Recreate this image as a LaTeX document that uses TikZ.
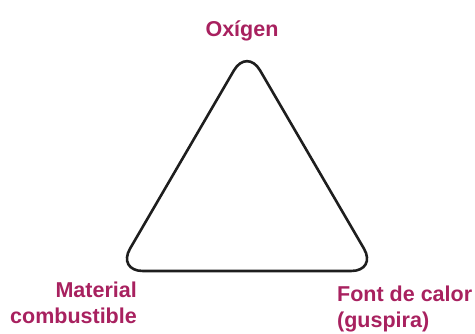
\documentclass[tikz,border=0pt]{standalone}
\usepackage{fontspec}
\setmainfont{Liberation Sans}
\definecolor{labelcol}{HTML}{A8215F}
\definecolor{linecol}{HTML}{1E1E1E}
\begin{document}
\begin{tikzpicture}[x=1pt,y=1pt,
  lbl/.style={text=labelcol,font=\fontsize{21.5}{26}\selectfont\bfseries,inner sep=0pt},
  tri/.style={draw=linecol,line width=2.6pt,rounded corners=26pt,line join=round}]
\useasboundingbox (0,0) rectangle (475,333);
\coordinate (apex) at (247,285);
\coordinate (bl) at (117,62);
\coordinate (br) at (377,62);
\draw[tri] (bl) -- (apex) -- (br) -- cycle;
\node[lbl,anchor=base] (oxi) at (242,297) {Oxígen};
\node[lbl,anchor=base east,align=right] (mat) at (137,10) {Material\\combustible};
\node[lbl,anchor=base west,align=left] (font) at (337,6) {Font de calor\\(guspira)};
\end{tikzpicture}
\end{document}
